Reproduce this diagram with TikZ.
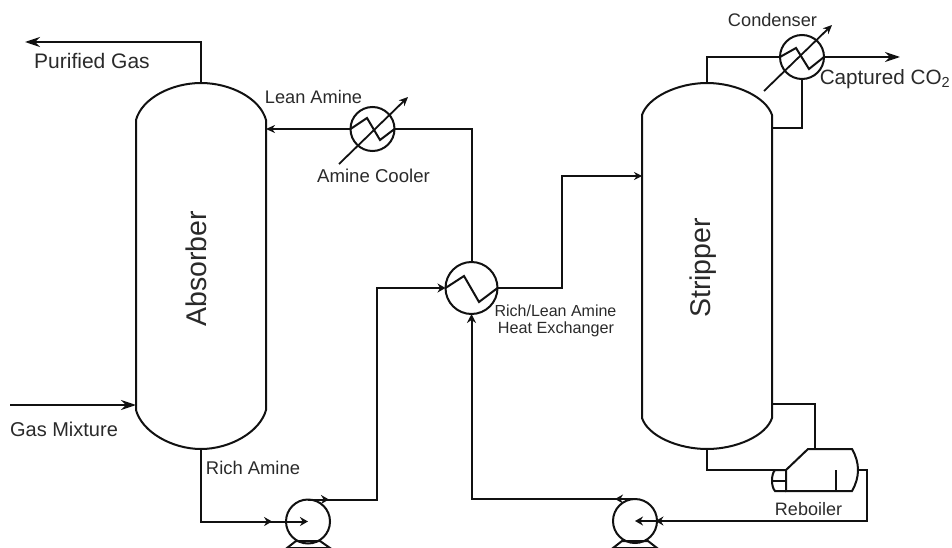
\documentclass[tikz,border=0pt]{standalone}
\usepackage{fontspec}
\setmainfont{Liberation Sans}
\usetikzlibrary{arrows.meta,decorations.markings}
\definecolor{ink}{HTML}{111111}
\definecolor{lab}{HTML}{2A2A2A}
\tikzset{
  pipe/.style={draw=ink,line width=2pt,line join=miter},
  flow/.style={pipe,-{Stealth[length=15pt,width=10pt]}},
  tinyflow/.style={pipe,-{Stealth[length=9pt,width=8pt]}},
  mid/.style={postaction={decorate},decoration={markings,mark=at position #1 with {\arrow{Stealth[length=8pt,width=9pt]}}}},
  hx/.style={circle,draw=ink,line width=2pt,fill=none,minimum size=#1,inner sep=0pt,outer sep=0pt},
  vessel/.style={rectangle,draw=none,fill=none,inner sep=0pt,outer sep=0pt,minimum width=130pt},
  lbl/.style={text=lab,inner sep=0pt,font=\fontsize{#1}{#1}\selectfont}
}
\begin{document}
\begin{tikzpicture}[x=1pt,y=-1pt]
\useasboundingbox (0,0) rectangle (952,548);
% vessels
\draw[pipe] (136,120) .. controls (142,98) and (172,83) .. (201,83) .. controls (230,83) and (260,98) .. (266,120) -- (266,410) .. controls (260,432) and (230,449) .. (201,449) .. controls (172,449) and (142,432) .. (136,410) -- cycle;
\draw[pipe] (642,115) .. controls (648,97) and (678,83) .. (707,83) .. controls (736,83) and (766,97) .. (772,115) -- (772,418) .. controls (766,436) and (736,449) .. (707,449) .. controls (678,449) and (648,436) .. (642,418) -- cycle;
\node[vessel,minimum height=366pt] (abs) at (201,266) {};
\node[vessel,minimum height=366pt] (str) at (707,266) {};
\node[lbl=28.5,rotate=90] (absl) at (196,269) {Absorber};
\node[lbl=28.5,rotate=90] (strl) at (703,268) {Stripper};
% exchangers and pumps
\node[hx=44pt] (cool) at (372.5,129) {};
\node[hx=52pt] (rlhx) at (471.5,288) {};
\node[hx=44pt] (cond) at (802,57) {};
\node[hx=44pt] (p1) at (308,521.5) {};
\node[hx=44pt] (p2) at (635,521) {};
% zigzags and diagonals
\draw[pipe] (cool.west) -- (367,118) -- (380,140) -- (cool.east);
\draw[pipe] (rlhx.west) -- (464,276) -- (479,302) -- (rlhx.east);
\draw[pipe] (cond.west) -- (796,48) -- (809,69) -- (cond.east);
\coordinate (cd1) at (339,164); \coordinate (cd2) at (408,97);
\coordinate (cn1) at (764,91); \coordinate (cn2) at (832,25);
\draw[tinyflow,line width=1.8pt] (cd1) -- (cd2);
\draw[tinyflow,line width=1.8pt] (cn1) -- (cn2);
% pump bases
\draw[pipe] (287,548) -- (296,541) -- (320,541) -- (330,548) -- cycle;
\draw[pipe] (613,548) -- (622,541) -- (648,541) -- (657,548) -- cycle;
% reboiler
\coordinate (rbA) at (786,470);
\coordinate (rbB) at (808,449);
\coordinate (rbC) at (852,449);
\coordinate (rbE) at (858,470);
\coordinate (rbD) at (852,491);
\coordinate (rbF) at (786,491);
\draw[pipe] (rbA) -- (rbB) -- (rbC) .. controls (856,456) and (858,463) .. (rbE) .. controls (858,477) and (856,484) .. (rbD) -- (rbF) -- cycle;
\draw[pipe] (786,470) -- (775,470) .. controls (771,474) and (771,487) .. (775,491) -- (786,491);
\draw[pipe,line width=1.6pt] (773,481) -- (786,481);
\draw[pipe] (836,470) -- (836,491);
% gas lines
\coordinate (absT) at (201,83);
\coordinate (pgE) at (25,42);
\draw[flow] (absT) -- (201,42) -- (pgE);
\coordinate (gmS) at (10,405);
\coordinate (gmE) at (136,405);
\draw[flow] (gmS) -- (gmE);
% lean amine
\coordinate (leanE) at (266,129);
\draw[pipe,-{Stealth[length=9pt,width=8pt]}] (cool.west) -- (leanE);
\draw[pipe] (rlhx.north) -- (471.5,129) -- (cool.east);
% rich amine
\coordinate (absB) at (201,449);
\draw[pipe,mid=0.8,-{Stealth[length=8pt,width=9pt]}] (absB) -- (201,521.5) -- (p1.center);
\draw[pipe,-{Stealth[length=8pt,width=9pt]}] (p1.north) -- (377,499.5) -- (377,288) -- (rlhx.west);
% hx to stripper
\coordinate (strF) at (642,176);
\draw[pipe,-{Stealth[length=8pt,width=8pt]}] (rlhx.east) -- (562,288) -- (562,176) -- (strF);
% condenser
\draw[pipe] (str.north) -- (707,57) -- (cond.west);
\coordinate (co2) at (900,57);
\draw[flow] (cond.east) -- (co2);
\coordinate (strR) at (772,128);
\draw[pipe] (cond.south) -- (802,128) -- (strR);
% reboiler pipes
\coordinate (strR2) at (772,404);
\draw[pipe] (strR2) -- (815,404) -- (815,449);
\draw[pipe] (str.south) -- (707,470) -- (775,470);
\draw[pipe,mid=0.93,-{Stealth[length=8pt,width=9pt]}] (rbE) -- (867,470) -- (867,521) -- (p2.center);
\draw[pipe,-{Stealth[length=9pt,width=9pt]}] (p2.north) -- (471.5,499) -- (rlhx.south);
% small markers
\coordinate (m1) at (329,499.5);
\coordinate (m1b) at (323,499.5);
\draw[pipe,-{Stealth[length=8pt,width=9pt]}] (m1b) -- (m1);
\coordinate (m2) at (615,499);
\coordinate (m2b) at (621,499);
\draw[pipe,-{Stealth[length=8pt,width=9pt]}] (m2b) -- (m2);
% labels
\node[lbl=21] (t1) at (92,61) {Purified Gas};
\node[lbl=20] (t2) at (64,429) {Gas Mixture};
\node[lbl=18.2] (t3) at (313.5,97) {Lean Amine};
\node[lbl=18.6] (t4) at (373.5,176) {Amine Cooler};
\node[lbl=18.4] (t5) at (253,468) {Rich Amine};
\node[lbl=16] (t6) at (555.5,311) {Rich/Lean Amine};
\node[lbl=16.2] (t7) at (556,329) {Heat Exchanger};
\node[lbl=18.2] (t8) at (772.5,20) {Condenser};
\node[lbl=20.7] (t9) at (885,79) {Captured CO\textsubscript{2}};
\node[lbl=18] (t10) at (808.5,509) {Reboiler};
\end{tikzpicture}
\end{document}
